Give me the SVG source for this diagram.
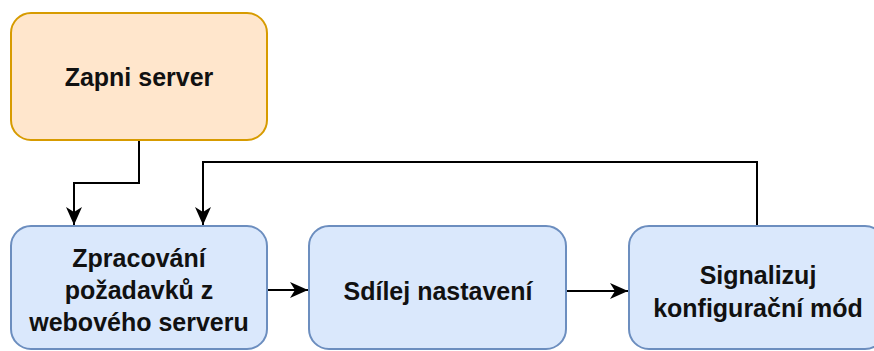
<svg xmlns="http://www.w3.org/2000/svg" width="874" height="351" viewBox="0 0 874 351">
<style>
.orange{fill:#ffe6cc;stroke:#d79b00;stroke-width:2}
.blue{fill:#dae8fc;stroke:#6c8ebf;stroke-width:2}
.t{font-family:"Liberation Sans",Arial,sans-serif;font-weight:bold;font-size:25px;fill:#111;text-anchor:middle}
.c{fill:none;stroke:#000;stroke-width:2}
</style>
<defs>
<marker id="arr" markerUnits="userSpaceOnUse" markerWidth="20" markerHeight="20" viewBox="-19 -10 20 20" refX="0" refY="0" orient="auto">
<path d="M-18,-8 L0,0 L-18,8 L-13,0 Z" fill="#000"/>
</marker>
</defs>
<g id="connectors">
<path class="c" d="M139,140 V183 H74 V225" marker-end="url(#arr)"/>
<path class="c" d="M757,226 V162 H203 V225" marker-end="url(#arr)"/>
<path class="c" d="M267,290 H308" marker-end="url(#arr)"/>
<path class="c" d="M566,291 H628" marker-end="url(#arr)"/>
</g>
<g id="zapni">
<rect class="orange" x="11" y="13" width="256" height="127" rx="20"/>
<text class="t" x="139" y="86">Zapni server</text>
</g>
<g id="zpracovani">
<rect class="blue" x="11" y="226" width="256" height="123" rx="20"/>
<text class="t" x="139" y="267">Zpracování</text>
<text class="t" x="139" y="299">požadavků z</text>
<text class="t" x="139" y="331">webového serveru</text>
</g>
<g id="sdilej">
<rect class="blue" x="309" y="226" width="257" height="123" rx="20"/>
<text class="t" x="438" y="300">Sdílej nastavení</text>
</g>
<g id="signalizuj">
<rect class="blue" x="629" y="226" width="256" height="123" rx="20"/>
<text class="t" x="758" y="284">Signalizuj</text>
<text class="t" x="758" y="317">konfigurační mód</text>
</g>
</svg>
